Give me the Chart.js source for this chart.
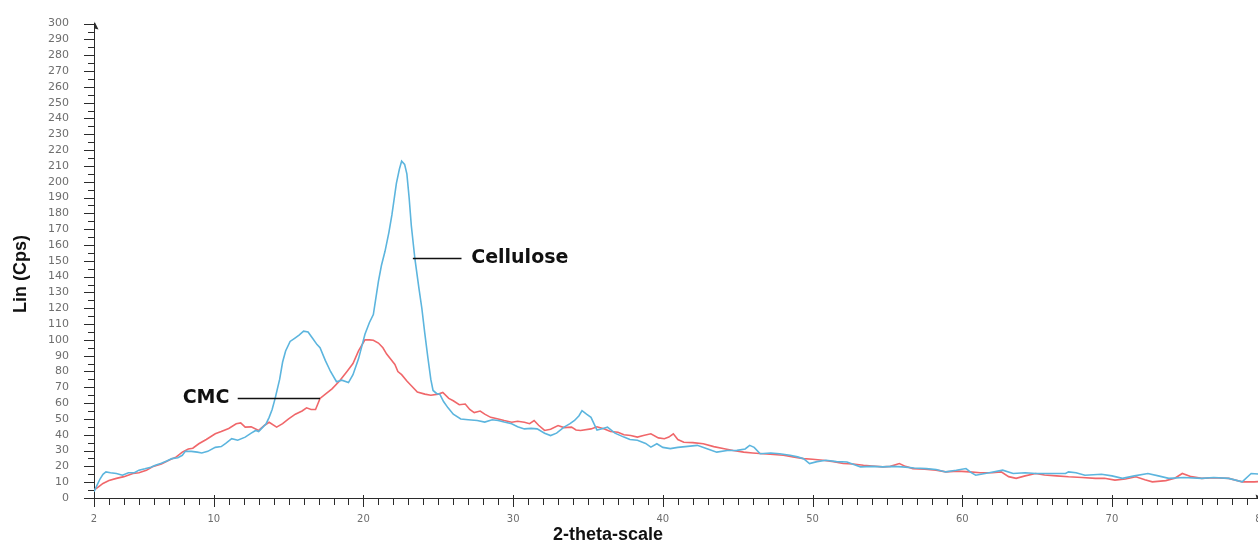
<!DOCTYPE html>
<html>
<head>
<meta charset="utf-8">
<script src="https://cdn.jsdelivr.net/npm/chart.js@4/dist/chart.umd.min.js"></script>
<style>
html,body{margin:0;padding:0;background:#fff;overflow:hidden;}
#wrap{position:absolute;left:0;top:0;width:1275px;height:543px;}
</style>
</head>
<body>
<div id="wrap"><canvas id="c" width="1275" height="543"></canvas></div>
<script>
// ---- Data ----
const xTitle = '2-theta-scale';
const yTitle = 'Lin (Cps)';
const seriesNames = ['Cellulose', 'CMC'];

const celluloseX = [2.0,2.15,2.4,2.6,2.8,3.1,3.5,3.9,4.3,4.7,5.0,5.4,5.8,6.1,6.5,6.9,7.2,7.6,7.9,8.1,8.5,8.9,9.2,9.6,10.1,10.5,10.8,11.2,11.6,12.1,12.5,12.8,13.0,13.2,13.5,13.7,13.9,14.1,14.4,14.6,14.8,15.1,15.4,15.7,16.0,16.3,16.6,16.9,17.1,17.45,17.8,18.2,18.55,19.0,19.3,19.67,20.1,20.4,20.66,21.0,21.2,21.44,21.7,21.9,22.2,22.4,22.55,22.75,22.9,23.05,23.2,23.44,23.7,23.9,24.1,24.3,24.5,24.65,24.9,25.1,25.35,25.65,26.0,26.5,27.0,27.6,28.1,28.6,29.0,29.4,29.9,30.3,30.75,31.2,31.6,32.1,32.5,32.9,33.4,33.8,34.1,34.4,34.6,34.9,35.2,35.6,36.0,36.3,36.8,37.4,37.8,38.3,38.85,39.2,39.6,40.0,40.5,41.0,41.5,42.3,43.0,43.6,44.3,44.95,45.5,45.8,46.1,46.5,47.2,47.8,48.5,49.0,49.4,49.8,50.3,50.9,51.6,52.3,52.8,53.2,54.0,54.7,55.4,56.0,56.8,57.6,58.25,58.9,59.6,60.25,60.6,60.9,61.8,62.7,63.4,64.2,64.9,65.9,66.9,67.1,67.6,68.2,69.3,70.0,70.7,71.5,72.4,73.1,73.8,74.8,76.0,76.8,77.8,78.7,79.3,80];
const celluloseY = [4,7,12,15,16.5,16,15.5,14.4,16,16,17.6,18.5,19.5,20.7,22,23.5,24.9,25.5,27,29.5,29.5,29,28.5,29.5,32,32.5,34.5,37.5,36.5,38.5,41,42.7,42,44,47,51,56,63,75,86,93,99,101,103,105.5,105,101,97,95,87,80,73.5,74.5,73,78,88,103.5,111,116,137,147,156,168,179,199,208,213,211,205,190,172,151,133,120,104,89,75,68,66,65.7,61,57,53,50,49.5,49,48,49.5,49,48,46.9,45,43.7,44,43.7,41,39.5,41,44.8,47,49,52,55.2,53,51,43,44,44.8,41,38.5,37,36.5,34.5,32.2,34.3,32,31.2,32,32.5,33.3,31,29,30,30.1,31,33.3,32,28,28.5,28,27,26,24.9,21.8,23,23.9,23,22.8,21,19.7,20,19.7,20,19.7,19,18.6,18,16.5,17.5,18.6,16,14.4,16,17.6,15.5,16,15.5,15.5,15.5,16.5,16,14.4,15,14,12.4,14,15.5,14,12.4,13,12.4,13,12.4,10.2,15.5,15];

const cmcX = [2.0,2.3,2.6,3.0,3.5,4.0,4.6,5.0,5.5,5.9,6.5,7.0,7.5,7.9,8.3,8.6,9.0,9.5,10.1,10.5,11.0,11.5,11.8,12.1,12.5,13.0,13.4,13.7,14.2,14.6,15.0,15.45,15.9,16.2,16.5,16.8,17.1,17.5,17.9,18.4,18.9,19.3,19.67,20.1,20.4,20.66,21.0,21.3,21.55,21.8,22.1,22.3,22.55,22.9,23.2,23.6,24.1,24.5,25.0,25.3,25.7,26.0,26.4,26.8,27.1,27.4,27.8,28.1,28.5,29.0,29.4,29.9,30.3,30.75,31.1,31.4,31.7,32.1,32.5,33.0,33.4,33.9,34.2,34.5,35.2,35.6,36.1,36.5,37.0,37.4,37.85,38.3,38.7,39.2,39.7,40.1,40.4,40.7,41.0,41.4,42.0,42.7,43.4,44.1,44.7,45.4,46.0,46.7,47.4,48.05,48.7,49.4,50.0,50.7,51.4,52.05,52.7,53.4,54.0,54.7,55.2,55.8,56.2,56.7,57.5,58.25,58.9,59.7,60.5,61.2,62.0,62.6,63.1,63.6,64.2,64.9,65.5,66.3,67.1,68.0,68.9,69.5,70.2,70.9,71.6,72.2,72.7,73.6,74.2,74.7,75.3,76.0,76.8,77.8,78.7,79.5,80];
const cmcY = [5,7,9.2,11,12.4,13.5,15.5,16,17.5,19.7,21.5,23.9,26,29,31,31.5,34.3,37,40.6,42,44,46.9,47.5,44.8,45,42.7,46,47.9,44.8,47,50,53,55,57,56,56,63,66,69,74,80,85,93,100,100,99.8,98,95,91,88,84.5,80,78,74,71,67,65.7,65,65.7,66.7,63,61.5,59,59.4,56,54,55,53,51,50,49,47.9,48.5,47.9,47,49,46,42.7,43.5,45.8,44.5,44.8,43,42.7,43.7,45,43.7,42,41.6,40,39.5,38.5,39.5,40.6,38,37.5,38.5,40.6,37,35.3,35,34.3,32.5,31.2,30,29,28.5,28,27.5,27,26,24.9,24.5,23.9,23,21.8,21.5,20.7,20.2,19.7,20,21.8,20,18.6,18.2,17.6,16.5,17,16.5,16,16,16.5,13.5,12.4,14,15.5,14.5,14,13.4,13,12.4,12.5,11.3,12,13.4,11.5,10.2,11,12.5,15.5,13.5,12.4,12.8,12.4,10.2,10.2,10.5];

const xTickLabels = [2,10,20,30,40,50,60,70,80];
const yTickLabels = [0,10,20,30,40,50,60,70,80,90,100,110,120,130,140,150,160,170,180,190,200,210,220,230,240,250,260,270,280,290,300];

// ---- Annotation anchors (data coordinates) ----
const celluloseNote = {lineFrom:[23.3,151.5], lineTo:[26.55,151.5], textAt:[27.2,151.5]};
const cmcNote = {lineFrom:[11.6,63.4], lineTo:[17.1,63.4], textAt:[11.05,63.4]};

const pts = (xs, ys) => xs.map((x,i)=>({x:x, y:ys[i]}));

const AXIS = '#2b2b2b';
const LABEL = '#6e6e6e';

const decor = {
  id:'decor',
  afterDraw(chart){
    const ctx = chart.ctx, xs = chart.scales.x, ys = chart.scales.y;
    const ca = chart.chartArea;
    ctx.save();
    ctx.strokeStyle = AXIS; ctx.lineWidth = 1;
    // x tick marks
    for (let v = 2; v <= 80; v++){
      const px = Math.round(xs.getPixelForValue(v)) + 0.5;
      const major = (v % 10 === 0) || v === 2;
      ctx.beginPath();
      ctx.moveTo(px, ca.bottom + (major ? -3 : 0));
      ctx.lineTo(px, ca.bottom + (major ? 9 : 7));
      ctx.stroke();
    }
    // y tick marks
    for (let v = 0; v <= 300; v += 5){
      const py = Math.round(ys.getPixelForValue(v)) + 0.5;
      const major = v % 10 === 0;
      ctx.beginPath();
      ctx.moveTo(ca.left - (major ? 10 : 6), py);
      ctx.lineTo(ca.left, py);
      ctx.stroke();
    }
    // arrow heads
    ctx.fillStyle = AXIS;
    const ax = Math.round(ca.left) + 0.5;
    ctx.beginPath(); ctx.moveTo(ax, ca.top - 2); ctx.lineTo(ax + 4, ca.top + 6); ctx.lineTo(ax, ca.top + 5); ctx.closePath(); ctx.fill();
    const ay = Math.round(ca.bottom) + 0.5;
    ctx.beginPath(); ctx.moveTo(ca.right + 2, ay); ctx.lineTo(ca.right - 6, ay - 4); ctx.lineTo(ca.right - 5, ay); ctx.closePath(); ctx.fill();

    // axis titles
    ctx.fillStyle = '#111';
    ctx.font = 'bold 18px "Liberation Sans", Arial, sans-serif';
    ctx.textAlign = 'center'; ctx.textBaseline = 'middle';
    ctx.fillText(xTitle, 608, 535);
    ctx.save();
    ctx.translate(21, 274); ctx.rotate(-Math.PI/2);
    ctx.fillText(yTitle, 0, 0);
    ctx.restore();

    // annotations
    ctx.strokeStyle = '#111'; ctx.lineWidth = 1.3;
    ctx.font = 'bold 19px "DejaVu Sans", sans-serif';
    ctx.textBaseline = 'middle';
    const drawNote = (n, label, align) => {
      const y = Math.round(ys.getPixelForValue(n.lineFrom[1])) + 0.5;
      ctx.beginPath();
      ctx.moveTo(xs.getPixelForValue(n.lineFrom[0]), y);
      ctx.lineTo(xs.getPixelForValue(n.lineTo[0]), y);
      ctx.stroke();
      ctx.textAlign = align;
      ctx.fillText(label, xs.getPixelForValue(n.textAt[0]), ys.getPixelForValue(n.textAt[1]));
    };
    drawNote(celluloseNote, seriesNames[0], 'left');
    drawNote(cmcNote, seriesNames[1], 'right');
    ctx.restore();
  }
};

new Chart(document.getElementById('c'), {
  type: 'line',
  data: {
    datasets: [
      {label: seriesNames[1], data: pts(cmcX, cmcY), borderColor:'#f0676a', borderWidth:1.6, pointRadius:0, tension:0, order:2},
      {label: seriesNames[0], data: pts(celluloseX, celluloseY), borderColor:'#5cb5de', borderWidth:1.6, pointRadius:0, tension:0, order:1}
    ]
  },
  options: {
    responsive:false, animation:false, devicePixelRatio:1,
    layout:{padding:{left:0, right:10, top:20, bottom:0}},
    plugins:{legend:{display:false}, tooltip:{enabled:false}},
    scales:{
      x:{
        type:'linear', min:2, max:80,
        afterBuildTicks: s => { s.ticks = xTickLabels.map(v=>({value:v})); },
        afterFit: s => { s.height = 45; },
        grid:{display:false},
        border:{display:true, color:AXIS, width:1},
        ticks:{autoSkip:false, maxRotation:0, padding:7, color:LABEL, font:{family:'"DejaVu Sans", sans-serif', size:10}}
      },
      y:{
        type:'linear', min:0, max:300,
        afterBuildTicks: s => { s.ticks = yTickLabels.map(v=>({value:v})); },
        afterFit: s => { s.width = 94; },
        grid:{display:false},
        border:{display:true, color:AXIS, width:1},
        ticks:{autoSkip:false, padding:17, color:LABEL, font:{family:'"DejaVu Sans", sans-serif', size:11}}
      }
    }
  },
  plugins:[decor]
});
</script>
</body>
</html>
